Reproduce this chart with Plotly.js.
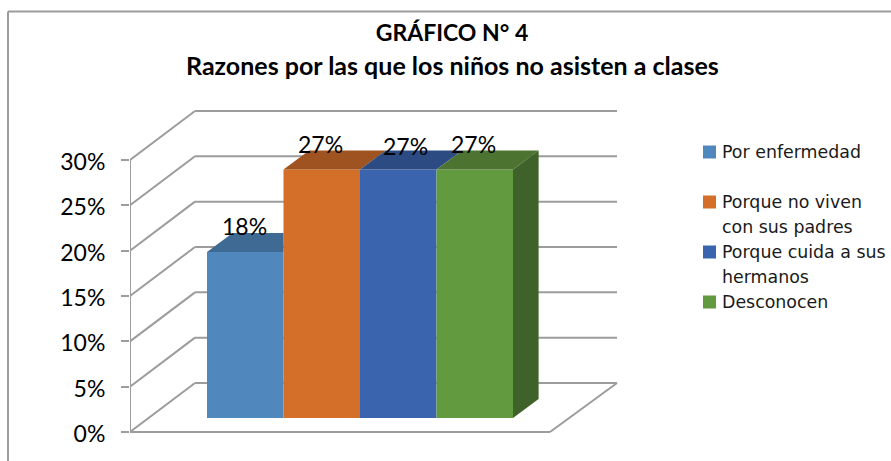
<!DOCTYPE html>
<html>
<head>
<meta charset="utf-8">
<script src="https://cdn.plot.ly/plotly-3.0.1.min.js"></script>
<style>html,body{margin:0;padding:0;background:#fff}#c{width:891px;height:461px}</style>
</head>
<body>
<div id="c"></div>
<script>
// ---- data ----
const categories = ['Por enfermedad', 'Porque no viven con sus padres', 'Porque cuida a sus hermanos', 'Desconocen'];
const values = [18.3, 27.4, 27.4, 27.4];
const labels = ['18%', '27%', '27%', '27%'];
const yTicks = [0, 5, 10, 15, 20, 25, 30];
const yTickLabels = ['0%', '5%', '10%', '15%', '20%', '25%', '30%'];
const frontColors = ['#5087BC', '#D46F2A', '#3B64AE', '#629A3F'];
const topColors = ['#3F6A94', '#9E5320', '#2C4B82', '#4C7430'];
const sideColors = ['#3A5F85', '#8A481C', '#27426F', '#3F612A'];
const legendLines = [['Por enfermedad'], ['Porque no viven', 'con sus padres'], ['Porque cuida a sus', 'hermanos'], ['Desconocen']];
const titleLine1 = 'GRÁFICO N° 4';
const titleLine2 = 'Razones por las que los niños no asisten a clases';

// ---- projection constants ----
const W = 891, H = 461;
const mL = 130, mR = 266, mT = 100, mB = 21;
const pxX = 76.5, pxY = 9.067;
const xMax = (W - mL - mR) / pxX, yMax = (432 - mT) / pxY, yMin = -(H - mB - 432) / pxY;
const wallDx = 65 / pxX, wallDy = 49 / pxY;      // floor depth
const floorW = 420 / pxX, backEnd = 487 / pxX;   // front floor edge, back wall end
const barStart = 77 / pxX, barBase = 14 / pxY;   // first bar left, bar base lift
const barDx = 25.6 / pxX, barDy = 19 / pxY;      // bar depth
const gray = '#9C9C9C';

const px = x => (x - mL) / (W - mL - mR);
const py = y => 1 - (y - mT) / (H - mT - mB);

const traces = [];
// front faces
categories.forEach((name, i) => {
  traces.push({type: 'bar', name, x: [barStart + i + 0.5], y: [values[i]], base: [barBase], width: [1],
    marker: {color: frontColors[i], line: {width: 0}}, showlegend: false, hovertemplate: name + ': ' + labels[i] + '<extra></extra>'});
});
// top faces: a face stops where the next, taller bar hides it
categories.forEach((name, i) => {
  const l = barStart + i, r = l + 1, t = barBase + values[i];
  const hidden = i < values.length - 1 && values[i + 1] > values[i];
  const xs = hidden ? [l, r, r, l + barDx, l] : [l, r, r + barDx, l + barDx, l];
  traces.push({type: 'scatter', mode: 'lines', x: xs, y: [t, t, t + barDy, t + barDy, t],
    fill: 'toself', fillcolor: topColors[i], line: {width: 0}, showlegend: false, hoverinfo: 'skip'});
});
{
  const i = categories.length - 1, r = barStart + categories.length, t = barBase + values[i];
  traces.push({type: 'scatter', mode: 'lines', x: [r, r + barDx, r + barDx, r, r], y: [barBase, barBase + barDy, t + barDy, t, barBase],
    fill: 'toself', fillcolor: sideColors[i], line: {width: 0}, showlegend: false, hoverinfo: 'skip'});
}
// vertical axis line
traces.push({type: 'scatter', mode: 'lines', x: [0, 0], y: [yTicks[0], yTicks[yTicks.length - 1]],
  line: {color: gray, width: 2}, cliponaxis: false, showlegend: false, hoverinfo: 'skip'});

// walls and floor
const shapes = yTicks.map(v => ({type: 'line', layer: 'below', xref: 'x', yref: 'y', x0: 0, y0: v, x1: wallDx, y1: v + wallDy, line: {color: gray, width: 2}}))
  .concat(yTicks.map(v => ({type: 'line', layer: 'below', xref: 'x', yref: 'y', x0: wallDx, y0: v + wallDy, x1: backEnd, y1: v + wallDy, line: {color: gray, width: 2}})));
shapes.push({type: 'line', layer: 'below', xref: 'x', yref: 'y', x0: 0, y0: 0, x1: floorW, y1: 0, line: {color: gray, width: 2}});
shapes.push({type: 'line', layer: 'below', xref: 'x', yref: 'y', x0: floorW, y0: 0, x1: backEnd, y1: wallDy, line: {color: gray, width: 2}});
// chart frame
shapes.push({type: 'line', xref: 'paper', yref: 'paper', x0: px(8), y0: py(11.5), x1: px(891), y1: py(11.5), line: {color: gray, width: 2}});
shapes.push({type: 'line', xref: 'paper', yref: 'paper', x0: px(8), y0: py(11.5), x1: px(8), y1: py(461), line: {color: gray, width: 2}});

const labelXShift = [-1, -1, 7, -1], labelYShift = [26, 26, 24, 26];
const annotations = categories.map((c, i) => ({
  xref: 'x', yref: 'y', x: barStart + i + 0.5, y: barBase + values[i], text: labels[i], showarrow: false,
  xshift: labelXShift[i], yshift: labelYShift[i], font: {family: 'Lato', size: 23, color: '#000'}
}));
// second title line
annotations.push({xref: 'paper', yref: 'paper', x: px(452), y: py(65.5), xanchor: 'center', yanchor: 'middle', showarrow: false,
  text: '<b>' + titleLine2 + '</b>', font: {family: 'Lato', size: 25, color: '#000'}});

// legend
const legendTop = [152, 202, 252, 302];
legendLines.forEach((lines, i) => {
  shapes.push({type: 'rect', xref: 'paper', yref: 'paper', x0: px(703), x1: px(716), y0: py(legendTop[i] - 6.5), y1: py(legendTop[i] + 6.5),
    fillcolor: frontColors[i], line: {width: 0}});
  lines.forEach((t, j) => annotations.push({xref: 'paper', yref: 'paper', x: px(720), y: py(legendTop[i] + j * 25), xanchor: 'left', yanchor: 'middle',
    text: t, showarrow: false, font: {family: 'DejaVu Sans', size: 17.4, color: '#1a1a1a'}}));
});

const layout = {
  width: W, height: H, margin: {l: mL, r: mR, t: mT, b: mB, autoexpand: false},
  paper_bgcolor: '#fff', plot_bgcolor: 'rgba(0,0,0,0)', barmode: 'overlay', showlegend: false,
  title: {text: '<b>' + titleLine1 + '</b>', x: 452 / W, xref: 'container', xanchor: 'center', yref: 'container', y: 1 - 33 / H, yanchor: 'middle',
    font: {family: 'Lato', size: 23, color: '#000'}},
  xaxis: {visible: false, range: [0, xMax], fixedrange: true},
  yaxis: {range: [yMin, yMax], tickmode: 'array', tickvals: yTicks, ticktext: yTickLabels, ticks: 'outside', ticklen: 8, tickwidth: 2, tickcolor: gray,
    ticklabelstandoff: 11, ticklabelshift: 2, showgrid: false, zeroline: false, showline: false, tickfont: {family: 'Lato', size: 23, color: '#000'}, fixedrange: true},
  shapes, annotations
};
Plotly.newPlot('c', traces, layout, {displayModeBar: false, staticPlot: true});
</script>
</body>
</html>
